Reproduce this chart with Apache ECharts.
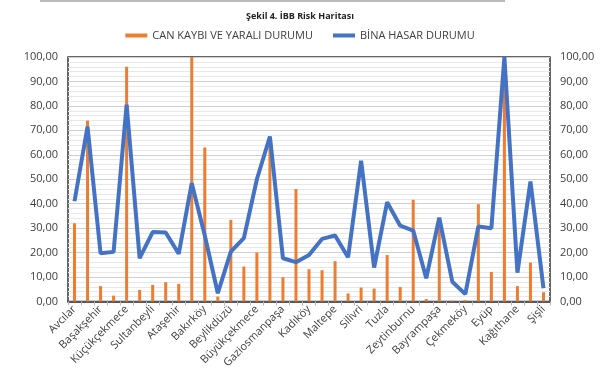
<!DOCTYPE html>
<html><head><meta charset="utf-8">
<script src="https://cdn.jsdelivr.net/npm/echarts@6/dist/echarts.min.js"></script>
<style>html,body{margin:0;padding:0;background:#fff}#c{width:600px;height:380px}</style>
</head><body><div id="c"></div>
<script>
var categories = ["Avcılar","Bahçelievler","Başakşehir","Esenyurt","Küçükçekmece","Sancaktepe","Sultanbeyli","Ümraniye","Ataşehir","Fatih","Bakırköy","Adalar","Beylikdüzü","Esenler","Büyükçekmece","Bağcılar","Gaziosmanpaşa","Beyoğlu","Kadıköy","Kartal","Maltepe","Pendik","Silivri","Sultangazi","Tuzla","Güngören","Zeytinburnu","Arnavutköy","Bayrampaşa","Beykoz","Çekmeköy","Sarıyer","Eyüp","Beşiktaş","Kağıthane","Üsküdar","Şişli"];
var canKaybi = [32,74,6.3,2.4,96,4.7,6.8,7.9,7.2,100,63,2,33.4,14.3,20,65,9.9,46,13.2,12.8,16.5,3.3,5.7,5.3,19,5.9,41.6,1,30,0.3,0.5,39.8,12.1,88,6.3,15.9,3.8];
var binaHasar = [41,71.5,19.7,20.3,80.5,17.7,28.4,28.2,19.5,48.4,27,3.4,20.4,25.9,50,67.5,17.7,16.1,19,25.6,27,18.1,57.6,13.9,40.6,31,29,9.5,34.3,8.1,3,30.7,30,100,11.8,49.1,5.4];
var seriesNames = ["CAN KAYBI VE YARALI DURUMU","BİNA HASAR DURUMU"];
var titleText = "Şekil 4. İBB Risk Haritası";

var chart = echarts.init(document.getElementById('c'), null, {renderer:'canvas'});
var fmt = function(v){ return v.toFixed(2).replace('.', ','); };
var yAx = function(pos){ return {
  type:'value', position:pos, min:0, max:100, interval:10,
  axisLabel:{formatter:fmt, color:'#404040', fontFamily:'Open Sans', fontSize:11, margin:10},
  axisLine:{show:false}, axisTick:{show:false},
  splitLine:{show:pos==='left', lineStyle:{color:'#cfcfcf', width:1}},
  minorTick:{show:false, splitNumber:5},
  minorSplitLine:{show:pos==='left', lineStyle:{color:'#e8e8e8', width:1}}
};};
chart.setOption({
  animation:false,
  title:{text:titleText, left:'center', top:7, textStyle:{fontSize:9, fontWeight:'bold', color:'#222', fontFamily:'Open Sans'}},
  legend:{top:25, left:'center', itemGap:20, itemWidth:22, itemHeight:4, icon:'rect',
    textStyle:{color:'#404040', fontSize:11, fontFamily:'Open Sans'}, data:seriesNames},
  grid:{left:68, right:50, top:57, bottom:78.5, show:true, borderColor:'#333', borderWidth:1.5, backgroundColor:'transparent'},
  xAxis:{type:'category', data:categories, boundaryGap:true,
    axisLine:{lineStyle:{color:'#333', width:1.5}},
    axisTick:{show:true, length:4, interval:0, lineStyle:{color:'#bbb'}},
    axisLabel:{interval:1, rotate:45, color:'#404040', fontSize:11, fontFamily:'Open Sans', margin:6}},
  yAxis:[yAx('left'), yAx('right')],
  graphic:[{type:'line', shape:{x1:40,y1:1,x2:505,y2:1}, style:{stroke:'#bbb', lineWidth:2}}],
  series:[
    {name:seriesNames[0], type:'bar', data:canKaybi, barWidth:3, itemStyle:{color:'#ED7D31'}, yAxisIndex:0},
    {name:seriesNames[1], type:'line', data:binaHasar, showSymbol:false, symbol:'none', lineStyle:{color:'#4472C4', width:4}, itemStyle:{color:'#4472C4'}, yAxisIndex:1}
  ]
});
</script></body></html>
